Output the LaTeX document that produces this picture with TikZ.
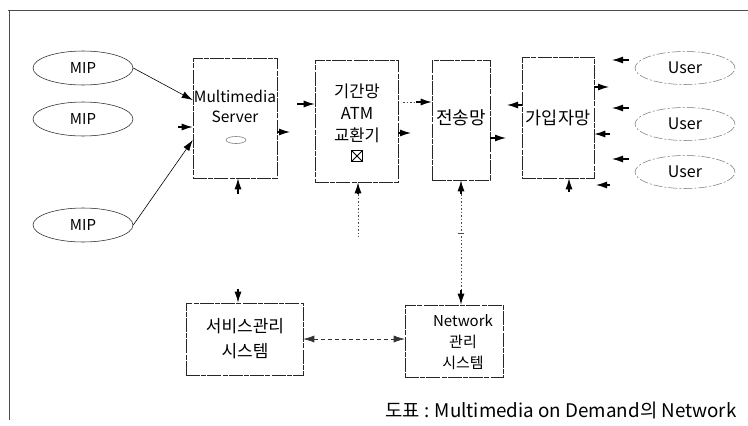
\documentclass[tikz,border=0pt]{standalone}
\usepackage{fontspec}
\setmainfont{Noto Sans CJK KR}
\usetikzlibrary{shapes.geometric,arrows.meta}
\begin{document}
\begin{tikzpicture}[x=1pt,y=-1pt,
  frameline/.style={draw=black!70,line width=0.5pt},
  box/.style={draw=black!85,line width=0.55pt,rectangle,inner sep=0pt,
    dash pattern=on 14pt off 1.2pt on 5pt off 1.2pt},
  mipnode/.style={draw=black!85,line width=0.55pt,ellipse,inner sep=0pt,
    minimum width=100pt,minimum height=34pt,font=\fontsize{15}{17}\selectfont},
  usernode/.style={draw=black!55,line width=0.5pt,ellipse,inner sep=0pt,
    dash pattern=on 9pt off 2pt on 2pt off 2pt,
    minimum width=100pt,minimum height=33pt,font=\fontsize{16}{18}\selectfont},
  lbl/.style={align=center,inner sep=0pt},
  tipk/.tip={Latex[length=11pt,width=7pt]},
  arr/.style={-tipk,line width=1.2pt},
  thinarr/.style={-tipk,line width=0.6pt},
  dotline/.style={line width=0.6pt,black!70,dash pattern=on 1.5pt off 2pt},
  dashline/.style={line width=0.6pt,black!80,dash pattern=on 4pt off 3pt}]
\useasboundingbox (0,0) rectangle (748,426);

% outer frame (top and left edges)
\draw[frameline] (8,10) -- (748,10);
\draw[frameline] (9,10) -- (9,420);

% media providers
\node[mipnode] (mip1) at (83,68) {MIP};
\node[mipnode] (mip2) at (83,119) {MIP};
\node[mipnode] (mip3) at (83,225) {MIP};

% main chain of boxes
\node[box,minimum width=84pt,minimum height=120pt] (ms) at (235,118) {};
\node[lbl,font=\fontsize{15.5}{20}\selectfont] (mstext) at (235,106) {Multimedia\\Server};
\node[draw=black!50,line width=0.6pt,ellipse,minimum width=20pt,minimum height=7pt,inner sep=0pt] (disk) at (236,140) {};

\node[box,minimum width=83pt,minimum height=122pt] (atm) at (356.5,121) {};
\node[lbl,font=\fontsize{16.5}{22}\selectfont] (atmtext) at (357,113) {기간망\\ATM\\교환기};
\node[draw=black,line width=0.8pt,minimum size=11pt,inner sep=0pt,
  path picture={\draw[line width=0.8pt] (path picture bounding box.south west) -- (path picture bounding box.north east)
   (path picture bounding box.north west) -- (path picture bounding box.south east);}] (xsym) at (357,156) {};

\node[box,minimum width=58pt,minimum height=120pt] (trans) at (461,120) {};
\node[lbl,font=\fontsize{18}{20}\selectfont] (transtext) at (461,118) {전송망};

\node[box,minimum width=72pt,minimum height=121pt] (sub) at (558,117.5) {};
\node[lbl,font=\fontsize{17.5}{20}\selectfont] (subtext) at (558,118) {가입자망};

% users
\node[usernode] (u1) at (685,68) {User};
\node[usernode] (u2) at (685,124) {User};
\node[usernode] (u3) at (685,172) {User};

% management systems
\node[box,minimum width=117pt,minimum height=72pt] (srv) at (244.5,339) {};
\node[lbl,font=\fontsize{17}{25}\selectfont] (srvtext) at (245,339) {서비스관리\\시스템};
\node[box,minimum width=98pt,minimum height=72pt] (net) at (454,341) {};
\node[lbl,font=\fontsize{15}{21}\selectfont] (nettext) at (463,342) {Network\\관리\\시스템};

% caption
\node[anchor=west,inner sep=0pt,font=\fontsize{18.8}{22}\selectfont] (cap) at (385,410) {도표 : Multimedia on Demand의 Network};

% inputs to the server
\draw[thinarr] (mip1.east) -- (ms.west |- 0,100);
\draw[thinarr] (mip3.east) -- (ms.west |- 0,140);
\coordinate (m2s) at (178,127);
\draw[arr] (m2s) -- (ms.west |- m2s);
\coordinate (msb) at (238,194);
\draw[arr] (msb) -- (msb |- ms.south);

% server to switch
\coordinate (mso) at (290,132);
\draw[arr] (ms.east |- mso) -- (mso);
\coordinate (atmi) at (297,104);
\draw[arr] (atmi) -- (atm.west |- atmi);

% switch to transport
\coordinate (atmo) at (411,133);
\draw[arr] (atm.east |- atmo) -- (atmo);
\coordinate (ati) at (403,102);
\draw[dotline] (ati) -- (419,102);
\draw[arr] (416,102) -- (trans.west |- ati);
\coordinate (atb) at (358,194);
\draw[arr] (atb) -- (atb |- atm.south);
\draw[dotline] (atb) -- (358,237);

% transport to access network
\coordinate (tro) at (506,138);
\draw[arr] (trans.east |- tro) -- (tro);
\coordinate (subi) at (507,105);
\draw[arr] (sub.west |- subi) -- (subi);
\coordinate (trb) at (461,194);
\draw[arr] (trb) -- (trb |- trans.south);
\draw[dotline] (trb) -- (461,294);
\draw[line width=0.5pt,black!70] (458,233) -- (464,233);
\draw[arr] (461,290) -- (net.north -| trb);
\coordinate (sbb) at (569,192);
\draw[arr] (sbb) -- (sbb |- sub.south);

% access network and users
\coordinate (so1) at (609,87);
\draw[arr] (sub.east |- so1) -- (so1);
\coordinate (so2) at (610,134);
\draw[arr] (so2) -- (sub.east |- so2);
\coordinate (so3a) at (610,185);
\coordinate (so3b) at (596,185);
\draw[arr] (so3a) -- (so3b);
\coordinate (ua) at (629,60);
\coordinate (ub) at (629,108);
\coordinate (uc) at (629,159);
\draw[arr] (ua) -- (612,60);
\draw[arr] (ub) -- (612,108);
\draw[arr] (uc) -- (612,159);

% management links
\coordinate (srt) at (238,289);
\draw[arr] (srt) -- (srt |- srv.north);
\draw[dashline,tipk-tipk] (srv.east |- 0,339) -- (net.west |- 0,339);
\end{tikzpicture}
\end{document}
